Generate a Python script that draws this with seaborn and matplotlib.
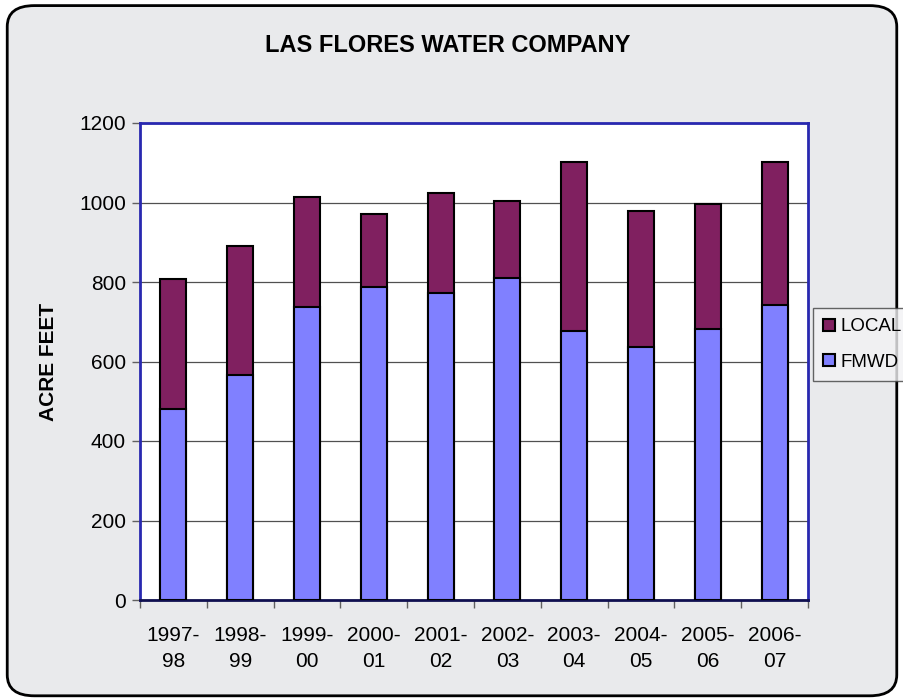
import numpy as np
import pandas as pd
import matplotlib
matplotlib.use("Agg")
import matplotlib.pyplot as plt
from matplotlib.patches import FancyBboxPatch, Patch
import seaborn as sns

# data
years = ["1997-\n98", "1998-\n99", "1999-\n00", "2000-\n01", "2001-\n02",
         "2002-\n03", "2003-\n04", "2004-\n05", "2005-\n06", "2006-\n07"]
fmwd = [480, 566, 737, 787, 772, 810, 677, 636, 682, 742]
local = [328, 324, 277, 184, 252, 194, 425, 343, 314, 360]

df = pd.DataFrame({"year": years, "FMWD": fmwd, "LOCAL": local})
df["total"] = df["FMWD"] + df["LOCAL"]

sns.set_style("white")
plt.rcParams["font.family"] = ["Liberation Sans", "DejaVu Sans"]
plt.rcParams["text.color"] = "black"
plt.rcParams["xtick.color"] = "black"
plt.rcParams["ytick.color"] = "black"
plt.rcParams["axes.labelcolor"] = "black"

fig = plt.figure(figsize=(9.04, 7.0), dpi=100)
fig.patch.set_facecolor("white")

# rounded frame with light marble-ish fill
frame = FancyBboxPatch((0.008, 0.006), 0.984, 0.986,
                       boxstyle="round,pad=0,rounding_size=0.03",
                       transform=fig.transFigure, facecolor="#e9eaec",
                       edgecolor="black", linewidth=2, zorder=-10)
fig.patches.append(frame)

ax = fig.add_axes([140 / 904, 100 / 700, 668 / 904, 477 / 700])
ax.set_zorder(1)
ax.set_facecolor("white")

# stacked bars: total (LOCAL on top) drawn first, FMWD over it
sns.barplot(data=df, x="year", y="total", color="#802060", width=0.39,
            edgecolor="black", linewidth=1.5, saturation=1, ax=ax, zorder=3)
sns.barplot(data=df, x="year", y="FMWD", color="#8080FF", width=0.39,
            edgecolor="black", linewidth=1.5, saturation=1, ax=ax, zorder=4)

ax.set_ylim(0, 1200)
ax.set_xlim(-0.5, 9.5)
ax.set_yticks(np.arange(0, 1201, 200))
ax.yaxis.grid(True, color="#505050", linewidth=0.9, zorder=1)
ax.set_axisbelow(True)

ax.tick_params(axis="y", direction="out", length=6, width=1, color="#606060",
               labelsize=15, pad=4, left=True)
ax.set_xticks(range(len(years)))
ax.set_xticklabels(years, fontsize=15, linespacing=1.45)
ax.tick_params(axis="x", length=0, pad=19)
ax.set_xticks(np.arange(-0.5, 10, 1), minor=True)
ax.tick_params(axis="x", which="minor", direction="out", length=6,
               width=1, color="#606060", bottom=True)

for side in ["top", "left", "right"]:
    ax.spines[side].set_visible(True)
    ax.spines[side].set_color("#2828b0")
    ax.spines[side].set_linewidth(2)
ax.spines["bottom"].set_color("#101050")
ax.spines["bottom"].set_linewidth(2)

ax.set_xlabel("")
ax.set_ylabel("ACRE FEET", fontsize=15, fontweight="bold", labelpad=15)

fig.text(448 / 904, 1 - 45 / 700, "LAS FLORES WATER COMPANY",
         ha="center", va="center", fontsize=17, fontweight="bold")

handles = [Patch(facecolor="#802060", edgecolor="black", linewidth=1.5),
           Patch(facecolor="#8080FF", edgecolor="black", linewidth=1.5)]
leg = ax.legend(handles, ["LOCAL", "FMWD"], loc="upper left",
                bbox_to_anchor=(813 / 904, 1 - 308 / 700),
                bbox_transform=fig.transFigure, frameon=True, fancybox=False,
                fontsize=13.5, handlelength=0.6, handleheight=0.6,
                handletextpad=0.3, labelspacing=1.0, borderpad=0.55,
                borderaxespad=0)
leg.get_frame().set_edgecolor("#404040")
leg.get_frame().set_facecolor("#f2f2f4")
leg.get_frame().set_linewidth(1)

fig.savefig("out.png", dpi=100)
